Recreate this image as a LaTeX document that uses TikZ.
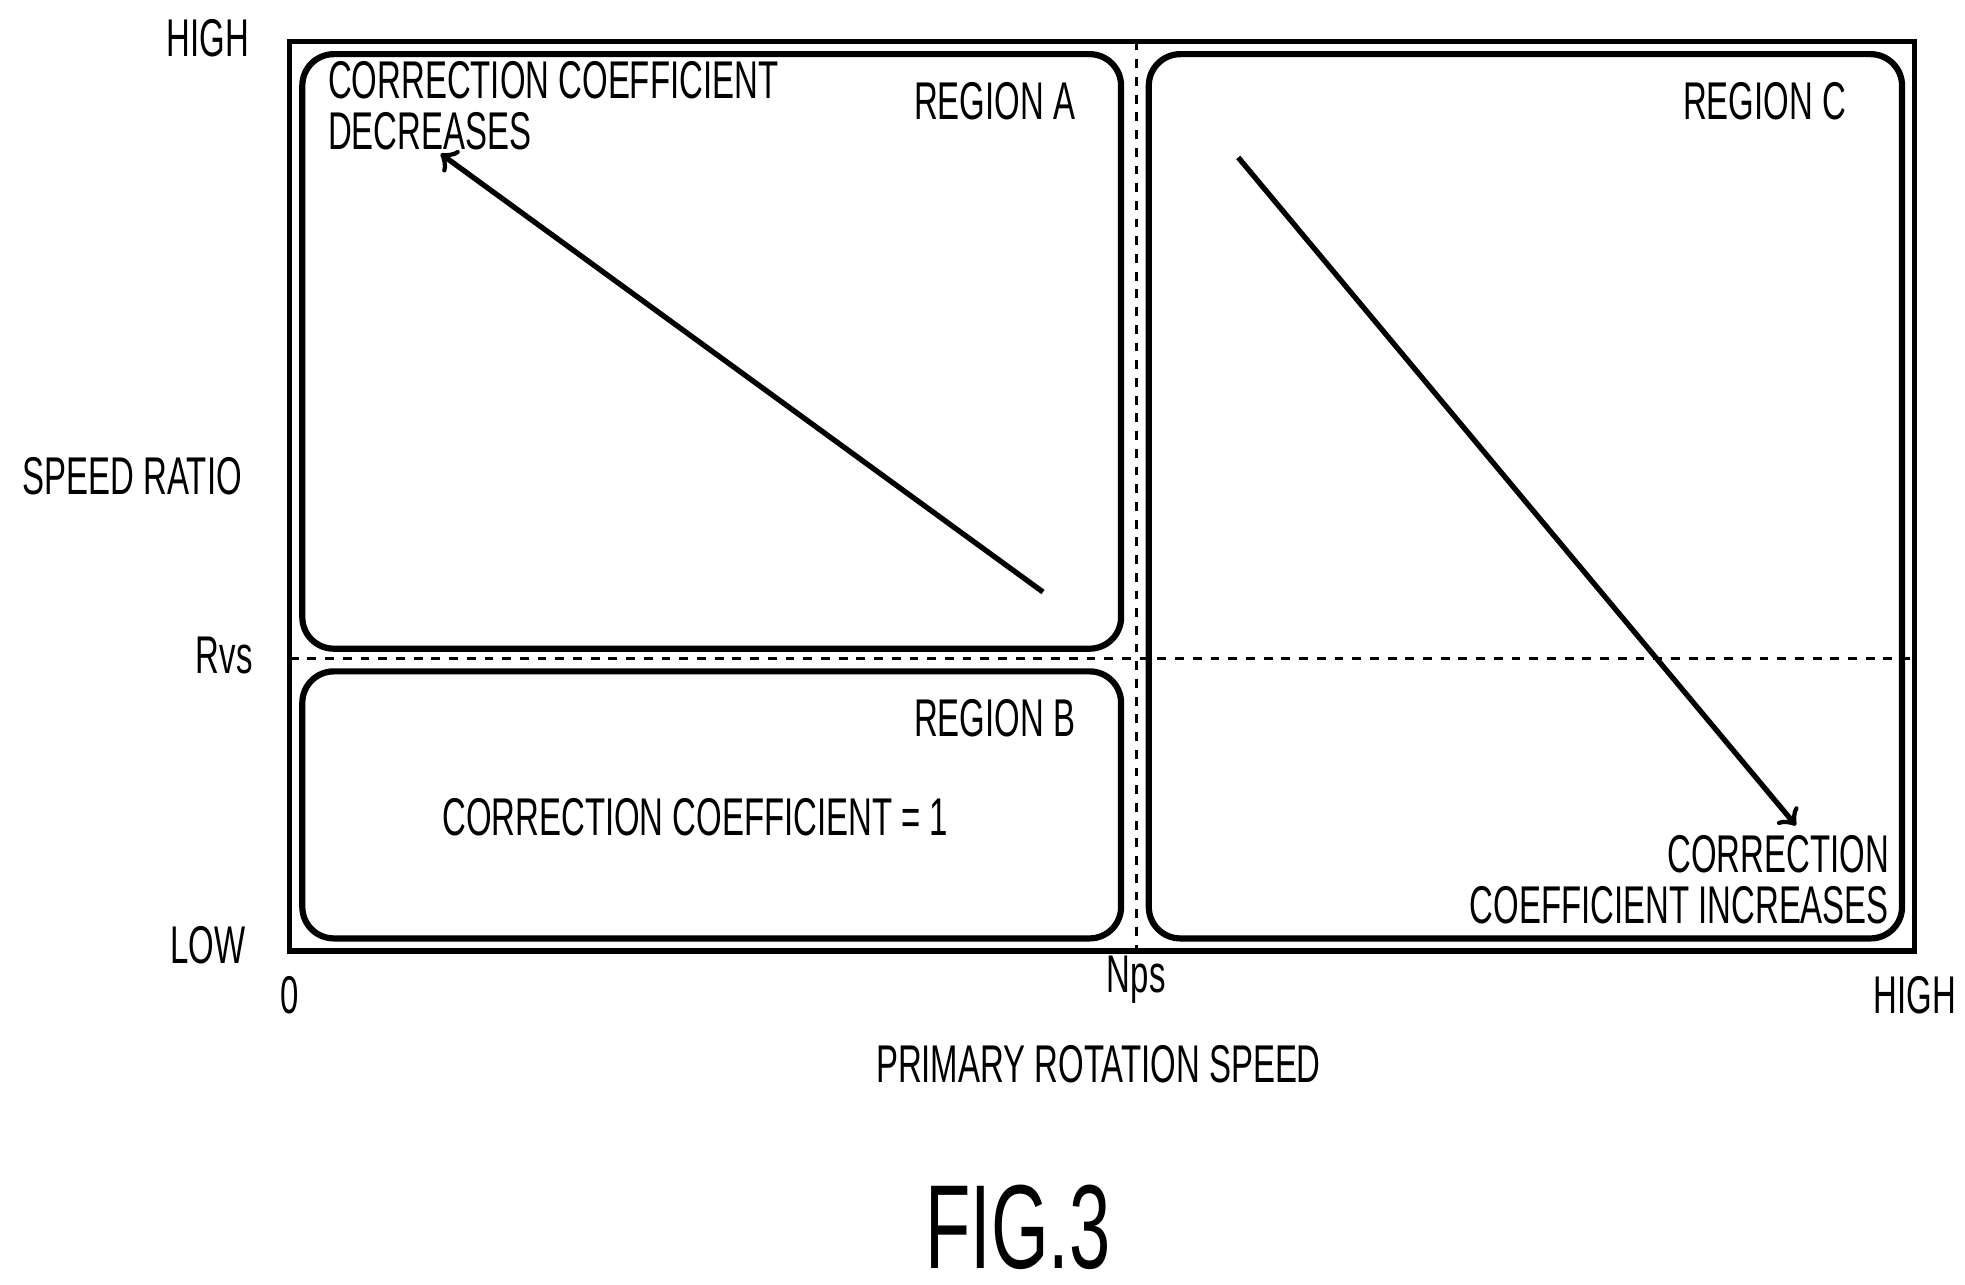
\documentclass[tikz,border=0pt]{standalone}
\usepackage{fontspec}
\setmainfont[FakeStretch=0.62]{Liberation Sans}
\usetikzlibrary{arrows}
\usetikzlibrary{positioning}

\tikzset{
    region/.style={draw, line width=1.4pt, rounded corners=0.25cm},
    lbl/.style={font=\fontsize{12}{12.5}\selectfont, inner sep=0.5pt},
    guide/.style={dashed, line width=0.6pt, dash pattern=on 2pt off 2pt},
    trend/.style={->, >=to, line width=1.2pt, shorten >=1pt}
}

\begin{document}
\begin{tikzpicture}[y=-1cm]
    \useasboundingbox (0,0) rectangle (15.6,10.2);

    % frame and guides
    \draw[line width=1.2pt] (2.30,0.33) rectangle (15.20,7.55);
    \coordinate (npstop) at (9.02,0.33);
    \coordinate (npsbot) at (9.02,7.62);
    \coordinate (rvsleft) at (2.30,5.23);
    \coordinate (rvsright) at (15.20,5.23);
    \draw[guide] (npstop) -- (npsbot);
    \draw[guide] (rvsleft) -- (rvsright);

    % regions
    \draw[region] (2.40,0.43) rectangle (8.90,5.15);
    \draw[region] (2.40,5.33) rectangle (8.90,7.45);
    \draw[region] (9.12,0.43) rectangle (15.10,7.45);

    \node[lbl, anchor=north east] (ra) at (8.56,0.63) {REGION A};
    \node[lbl, anchor=north east] (rb) at (8.56,5.53) {REGION B};
    \node[lbl, anchor=north east] (rc) at (14.68,0.63) {REGION C};

    \node[lbl, anchor=north west, align=left] (dec) at (2.58,0.46) {CORRECTION COEFFICIENT\\[-1pt]DECREASES};
    \node[lbl] (one) at (5.52,6.49) {CORRECTION COEFFICIENT = 1};
    \node[lbl, anchor=south east, align=right] (inc) at (15.02,7.36) {CORRECTION\\[-1pt]COEFFICIENT INCREASES};

    % trend arrows
    \coordinate (a0) at (8.28,4.70);
    \coordinate (a1) at (3.47,1.20);
    \coordinate (c0) at (9.83,1.25);
    \coordinate (c1) at (14.28,6.58);
    \draw[trend] (a0) -- (a1);
    \draw[trend] (c0) -- (c1);

    % axis labels
    \node[lbl] (yhigh) at (1.65,0.30) {HIGH};
    \node[lbl] (ytitle) at (1.05,3.78) {SPEED RATIO};
    \node[lbl] (rvs) at (1.78,5.20) {Rvs};
    \node[lbl] (ylow) at (1.65,7.50) {LOW};
    \node[lbl] (xzero) at (2.30,7.90) {0};
    \node[lbl] (nps) at (9.02,7.78) {Nps};
    \node[lbl] (xhigh) at (15.20,7.90) {HIGH};
    \node[lbl] (xtitle) at (8.72,8.45) {PRIMARY ROTATION SPEED};

    \node[font=\fontsize{27}{28}\selectfont, inner sep=0pt] (fig) at (8.08,9.74) {FIG.3};
\end{tikzpicture}
\end{document}
